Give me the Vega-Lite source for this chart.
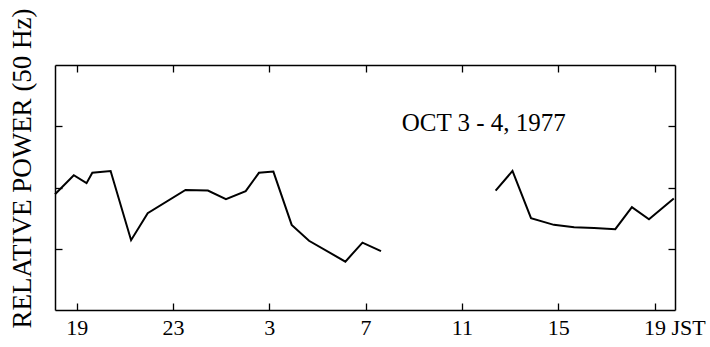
{
  "$schema": "https://vega.github.io/schema/vega-lite/v6.json",
  "width": 620,
  "height": 245,
  "autosize": {"type": "none"},
  "padding": {"left": 55, "top": 65, "right": 35, "bottom": 37},
  "background": "white",
  "config": {
    "view": {"stroke": null},
    "font": "Liberation Serif",
    "axis": {
      "grid": false,
      "domainColor": "black",
      "domainWidth": 1.5,
      "tickColor": "black",
      "tickWidth": 1.3,
      "labelColor": "black",
      "titleColor": "black"
    }
  },
  "datasets": {
    "power": [
      {"segment": "a", "hour": -0.9, "val": 1.89},
      {"segment": "a", "hour": -0.12, "val": 2.2},
      {"segment": "a", "hour": 0.41, "val": 2.07},
      {"segment": "a", "hour": 0.65, "val": 2.24},
      {"segment": "a", "hour": 1.41, "val": 2.27},
      {"segment": "a", "hour": 2.26, "val": 1.14},
      {"segment": "a", "hour": 2.95, "val": 1.58},
      {"segment": "a", "hour": 4.52, "val": 1.96},
      {"segment": "a", "hour": 5.45, "val": 1.95},
      {"segment": "a", "hour": 6.2, "val": 1.81},
      {"segment": "a", "hour": 7.02, "val": 1.94},
      {"segment": "a", "hour": 7.57, "val": 2.24},
      {"segment": "a", "hour": 8.17, "val": 2.26},
      {"segment": "a", "hour": 8.93, "val": 1.39},
      {"segment": "a", "hour": 9.65, "val": 1.13},
      {"segment": "a", "hour": 11.16, "val": 0.79},
      {"segment": "a", "hour": 11.87, "val": 1.1},
      {"segment": "a", "hour": 12.64, "val": 0.96},
      {"segment": "b", "hour": 17.4, "val": 1.95},
      {"segment": "b", "hour": 18.1, "val": 2.27},
      {"segment": "b", "hour": 18.87, "val": 1.5},
      {"segment": "b", "hour": 19.82, "val": 1.39},
      {"segment": "b", "hour": 20.66, "val": 1.35},
      {"segment": "b", "hour": 21.49, "val": 1.34},
      {"segment": "b", "hour": 22.37, "val": 1.32},
      {"segment": "b", "hour": 23.06, "val": 1.68},
      {"segment": "b", "hour": 23.77, "val": 1.48},
      {"segment": "b", "hour": 24.8, "val": 1.82}
    ],
    "note": [
      {"hour": 13.5, "val": 3.06, "label": "OCT  3 - 4, 1977"}
    ]
  },
  "layer": [
    {
      "data": {"name": "power"},
      "mark": {"type": "line", "color": "black", "strokeWidth": 2},
      "encoding": {
        "x": {
          "field": "hour",
          "type": "quantitative",
          "scale": {"domain": [-0.9, 24.85], "nice": false, "zero": false},
          "axis": {
            "orient": "bottom",
            "values": [0, 4, 8, 12, 16, 20, 24],
            "labelExpr": "datum.value == 24 ? '19 JST' : toString((datum.value + 19) % 24)",
            "labelAlign": {"condition": {"test": "datum.value == 24", "value": "left"}, "value": "center"},
            "labelOffset": {"condition": {"test": "datum.value == 24", "value": -11}, "value": 0},
            "labelFont": "Liberation Serif",
            "labelFontSize": 22,
            "tickSize": -7,
            "labelPadding": 14,
            "labelFlush": false,
            "labelOverlap": false,
            "title": null
          }
        },
        "y": {
          "field": "val",
          "type": "quantitative",
          "scale": {"domain": [0, 4], "nice": false},
          "axis": {
            "orient": "left",
            "values": [1, 2, 3],
            "labels": false,
            "tickSize": -7,
            "title": "RELATIVE  POWER  (50 Hz)",
            "titleFont": "Liberation Serif",
            "titleFontSize": 27,
            "titleFontWeight": "normal",
            "titleAngle": -90,
            "titleAlign": "center",
            "titleBaseline": "middle",
            "titleX": -33,
            "titleY": 103
          }
        },
        "detail": {"field": "segment"}
      }
    },
    {
      "data": {"name": "power"},
      "mark": {"type": "line", "opacity": 0},
      "encoding": {
        "x": {
          "field": "hour",
          "type": "quantitative",
          "axis": {"orient": "top", "values": [0, 4, 8, 12, 16, 20, 24], "labels": false, "tickSize": -7, "title": null}
        },
        "y": {
          "field": "val",
          "type": "quantitative",
          "axis": {"orient": "right", "values": [1, 2, 3], "labels": false, "tickSize": -7, "title": null}
        },
        "detail": {"field": "segment"}
      }
    },
    {
      "data": {"name": "note"},
      "mark": {"type": "text", "align": "left", "baseline": "middle", "fontSize": 25, "font": "Liberation Serif", "color": "black"},
      "encoding": {
        "x": {"field": "hour", "type": "quantitative", "axis": null},
        "y": {"field": "val", "type": "quantitative", "axis": null},
        "text": {"field": "label"}
      }
    }
  ],
  "resolve": {"axis": {"x": "independent", "y": "independent"}}
}
